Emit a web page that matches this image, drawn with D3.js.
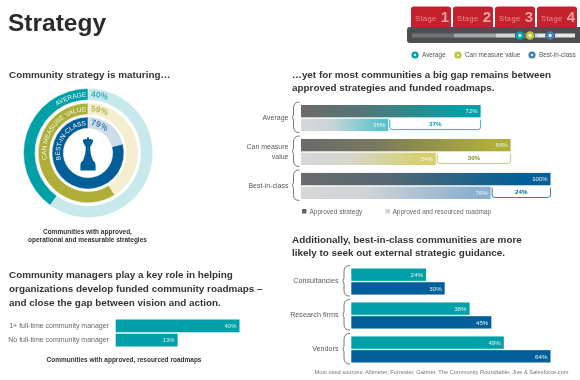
<!DOCTYPE html>
<html>
<head>
<meta charset="utf-8">
<script src="https://cdn.jsdelivr.net/npm/d3@7"></script>
<style>
  html, body { margin: 0; padding: 0; background: #fff; }
  svg { display: block; font-family: "Liberation Sans", Arial, sans-serif; filter: blur(0.4px); }
</style>
</head>
<body>
<div id="chart"></div>
<script>
// data
var maturitySegments = ["AVERAGE", "CAN MEASURE VALUE", "BEST-IN-CLASS"];
var maturityValues = [40, 59, 79];

var gapCategories = ["Average", "Can measure value", "Best-in-class"];
var gapSeries = ["Approved strategy", "Approved and resourced roadmap"];
var approvedValues = [72, 84, 100];
var roadmapValues = [35, 54, 76];
var gapValues = [37, 30, 24];

var guidanceCategories = ["Consultancies", "Research firms", "Vendors"];
var guidanceSeries = ["Average", "Best-in-class"];
var guidanceAverage = [24, 38, 49];
var guidanceBest = [30, 45, 64];

var managerCategories = ["1+ full-time community manager", "No full-time community manager"];
// the second bar is drawn longer than its printed 13% in the reference
var managerLengths = [40, 20];
var managerLabels = ["40%", "13%"];

var stageNames = [1, 2, 3, 4];
var legendNames = ["Average", "Can measure value", "Best-in-class"];
var stagePositions = [3.57, 3.81, 4.29];

var TEAL = "#00a0a8", OLIVE = "#aeae38", BLUE = "#005f99";
var ringColors = [TEAL, OLIVE, BLUE];
var ringLight = ["#c8e9eb", "#f2eecf", "#cedce9"];
var roadmapEnd = ["#5cc5ca", "#d6d06c", "#8db0ce"];
var INK = "#333333", LABEL = "#5a5a5a";

var svg = d3.select("#chart").append("svg")
  .attr("width", 580)
  .attr("height", 380);
var defs = svg.append("defs");

function heading(lines, x, y, lineHeight) {
  lines.forEach(function (t, i) {
    svg.append("text")
      .attr("x", x)
      .attr("y", y + i * lineHeight)
      .attr("font-size", 9.9)
      .attr("font-weight", "bold")
      .attr("fill", INK)
      .text(t);
  });
}

function note(t, x, y, size, anchor, color, bold) {
  return svg.append("text")
    .attr("x", x)
    .attr("y", y)
    .attr("font-size", size)
    .attr("text-anchor", anchor)
    .attr("fill", color)
    .attr("font-weight", bold ? "bold" : "normal")
    .text(t);
}

// bracket down the left of a group of bars
function bracket(x, y0, y1) {
  var w = 6, c = 3, mid = (y0 + y1) / 2;
  svg.append("path")
    .attr("d", "M" + (x + w) + "," + y0 + "Q" + x + "," + y0 + " " + x + "," + (y0 + c * 2) +
      "V" + (mid - c) + "L" + (x - 1) + "," + mid + "L" + x + "," + (mid + c) +
      "V" + (y1 - c * 2) + "Q" + x + "," + y1 + " " + (x + w) + "," + y1)
    .attr("fill", "none")
    .attr("stroke", "#555")
    .attr("stroke-width", 0.8);
}

// title
note("Strategy", 8, 31, 24.5, "start", "#2b2b2b", true);

// stage tracker, top right
var stageX = d3.scaleLinear().domain([1, 5]).range([412, 580]);
var stageTabs = svg.append("g");
stageNames.forEach(function (s) {
  var x0 = stageX(s) - 1, x1 = stageX(s + 1) - 3;
  stageTabs.append("path")
    .attr("d", "M" + x0 + ",28V9Q" + x0 + ",6.5 " + (x0 + 3) + ",6.5H" + (x1 - 3) + "Q" + x1 + ",6.5 " + x1 + ",9V28Z")
    .attr("fill", "#c4212f");
  stageTabs.append("text")
    .attr("x", x0 + 4)
    .attr("y", 20.5)
    .attr("font-size", 7.6)
    .attr("letter-spacing", 0.35)
    .attr("fill", "#e88e8e")
    .text("Stage");
  stageTabs.append("text")
    .attr("x", x1 - 2)
    .attr("y", 22)
    .attr("text-anchor", "end")
    .attr("font-size", 15)
    .attr("font-weight", "bold")
    .attr("fill", "#eda0a0")
    .text(s);
});
svg.append("rect")
  .attr("x", 407).attr("y", 27)
  .attr("width", 180).attr("height", 16)
  .attr("rx", 3)
  .attr("fill", "#4c4e50");
var trackColors = ["#707274", "#a3a5a7", "#d4d5d6", "#e6e6e6"];
stageNames.forEach(function (s, i) {
  svg.append("rect")
    .attr("x", stageX(s))
    .attr("y", 33.5)
    .attr("width", stageX(s + 1) - stageX(s) - (s == 4 ? 5 : 0))
    .attr("height", 4)
    .attr("fill", trackColors[i]);
});
var markerColors = ["#00a3ad", "#c3c236", "#3e7fb8"];
stagePositions.forEach(function (p, i) {
  svg.append("circle").attr("cx", stageX(p)).attr("cy", 35.5).attr("r", 5).attr("fill", "#4c4e50");
  svg.append("circle").attr("cx", stageX(p)).attr("cy", 35.5).attr("r", 3)
    .attr("fill", "#eef").attr("stroke", markerColors[i]).attr("stroke-width", 2.6);
});
var legendDotX = d3.scaleOrdinal().domain(legendNames).range([415, 458, 532]);
legendNames.forEach(function (n, i) {
  svg.append("circle").attr("cx", legendDotX(n)).attr("cy", 55).attr("r", 2.4)
    .attr("fill", "#dfeef0").attr("stroke", markerColors[i]).attr("stroke-width", 2.4);
  note(n, legendDotX(n) + 7, 57.3, 6.4, "start", "#555", false);
});

// rings
heading(["Community strategy is maturing…"], 9, 78, 13);

var ringRadii = [[53, 64.5], [38.5, 49.8], [24.7, 36]];
var ringAngle = d3.scaleLinear().domain([0, 100]).range([0, -2 * Math.PI]);
var rings = svg.append("g").attr("transform", "translate(88,153)");
var arc = d3.arc();

maturityValues.forEach(function (v, i) {
  var r = ringRadii[i];
  rings.append("path")
    .attr("d", arc({innerRadius: r[0], outerRadius: r[1], startAngle: 0, endAngle: 2 * Math.PI}))
    .attr("fill", ringLight[i]);
  rings.append("path")
    .attr("d", arc({innerRadius: r[0], outerRadius: r[1], startAngle: 0, endAngle: ringAngle(v)}))
    .attr("fill", ringColors[i])
    .attr("stroke", "#fff")
    .attr("stroke-width", 0.5);

  // circle that starts at the bottom, so its halfway point is 12 o'clock
  var baseR = (r[0] + r[1]) / 2 - 2.4;
  var circlePath = d3.path();
  circlePath.arc(0, 0, baseR, Math.PI / 2, Math.PI / 2 + 2 * Math.PI);
  defs.append("path").attr("id", "ring" + i).attr("d", circlePath.toString());

  rings.append("text")
    .attr("font-size", 6.5)
    .attr("fill", "#eef6ee")
    .attr("text-anchor", "end")
    .append("textPath")
    .attr("href", "#ring" + i)
    .attr("startOffset", (Math.PI * baseR - 2) + "")
    .text(maturitySegments[i]);
  rings.append("text")
    .attr("font-size", 8.4)
    .attr("font-weight", "bold")
    .attr("fill", ringColors[i] == BLUE ? "#3d7db0" : (ringColors[i] == OLIVE ? "#b5b54a" : "#35adb3"))
    .append("textPath")
    .attr("href", "#ring" + i)
    .attr("startOffset", (Math.PI * baseR + 2.5) + "")
    .text(v + "%");
});

// chess piece in the middle of the rings
rings.append("path")
  .attr("d", "M0,-16.5 L1,-15 L1,-14 C3.5,-14 5.2,-13.4 5.2,-12.6 L4,-8.6 L2.6,-8.6 L3.6,-7.2 L2.2,-6.4 C2.2,-1 3,3 5,7.5 C7,9 7.6,10.4 7.6,13 L7.6,17.5 L-7.6,17.5 L-7.6,13 C-7.6,10.4 -7,9 -5,7.5 C-3,3 -2.2,-1 -2.2,-6.4 L-3.6,-7.2 L-2.6,-8.6 L-4,-8.6 L-5.2,-12.6 C-5.2,-13.4 -3.5,-14 -1,-14 L-1,-15 Z")
  .attr("fill", BLUE);

note("Communities with approved,", 87.5, 233.5, 6.5, "middle", "#333", true);
note("operational and measurable strategies", 87.5, 241.8, 6.5, "middle", "#333", true);

// manager bars
heading([
  "Community managers play a key role in helping",
  "organizations develop funded community roadmaps –",
  "and close the gap between vision and action."
], 9, 278, 14);

var managerX = d3.scaleLinear().domain([0, 40]).range([115.7, 239.5]);
var managerY = d3.scaleBand().domain(managerCategories).range([319.5, 346.5]).paddingInner(0.1);
managerCategories.forEach(function (c, i) {
  svg.append("rect")
    .attr("x", managerX(0))
    .attr("y", managerY(c))
    .attr("width", managerX(managerLengths[i]) - managerX(0))
    .attr("height", managerY.bandwidth())
    .attr("fill", TEAL);
  note(c, 109, managerY(c) + managerY.bandwidth() / 2 + 2.3, 7, "end", "#666", false);
  note(managerLabels[i], managerX(managerLengths[i]) - 3, managerY(c) + managerY.bandwidth() / 2 + 2.2, 6, "end", "#d8f0f0", false);
});
note("Communities with approved, resourced roadmaps", 124, 361.5, 6.5, "middle", "#333", true);

// gap chart
heading([
  "…yet for most communities a big gap remains between",
  "approved strategies and funded roadmaps."
], 292, 77.5, 13);

var gapX = d3.scaleLinear().domain([0, 100]).range([301, 550.5]);
var gapY = d3.scaleBand().domain(gapCategories).range([102, 200.5]).paddingInner(0.1);
var gapRow = d3.scaleBand().domain(gapSeries).range([3, gapY.bandwidth() - 1.5]).paddingInner(0.1);

function gradient(id, from, mid, to) {
  var g = defs.append("linearGradient").attr("id", id);
  g.append("stop").attr("offset", "0%").attr("stop-color", from);
  g.append("stop").attr("offset", "35%").attr("stop-color", mid);
  g.append("stop").attr("offset", "90%").attr("stop-color", to);
}

gapCategories.forEach(function (c, i) {
  var y0 = gapY(c);
  gradient("appr" + i, "#6a6a6a", d3.interpolateRgb("#6a6a6a", ringColors[i])(0.2), ringColors[i]);
  gradient("road" + i, "#d6d7d8", d3.interpolateRgb("#d6d7d8", roadmapEnd[i])(0.1), roadmapEnd[i]);

  svg.append("rect")
    .attr("x", gapX(0)).attr("y", y0 + gapRow(gapSeries[0]))
    .attr("width", gapX(approvedValues[i]) - gapX(0))
    .attr("height", gapRow.bandwidth())
    .attr("fill", "url(#appr" + i + ")");
  svg.append("rect")
    .attr("x", gapX(0)).attr("y", y0 + gapRow(gapSeries[1]))
    .attr("width", gapX(roadmapValues[i]) - gapX(0))
    .attr("height", gapRow.bandwidth())
    .attr("fill", "url(#road" + i + ")");

  note(approvedValues[i] + "%", gapX(approvedValues[i]) - 3, y0 + gapRow(gapSeries[0]) + gapRow.bandwidth() / 2 + 2.2, 6, "end", "#e4f2f2", false);
  note(roadmapValues[i] + "%", gapX(roadmapValues[i]) - 3, y0 + gapRow(gapSeries[1]) + gapRow.bandwidth() / 2 + 2.2, 6, "end", "#f2f6f6", false);

  // rounded cup that spans the gap between the two bars
  var gx0 = gapX(roadmapValues[i]) + 1.5, gx1 = gapX(approvedValues[i]);
  var gyTop = y0 + gapRow(gapSeries[1]) + 1, gyBot = y0 + gapRow(gapSeries[1]) + gapRow.bandwidth() - 1.5;
  svg.append("path")
    .attr("d", "M" + gx0 + "," + gyTop + "V" + (gyBot - 2.5) + "Q" + gx0 + "," + gyBot + " " + (gx0 + 3) + "," + gyBot +
      "H" + (gx1 - 3) + "Q" + gx1 + "," + gyBot + " " + gx1 + "," + (gyBot - 2.5) + "V" + gyTop)
    .attr("fill", "none")
    .attr("stroke", ringColors[i] == OLIVE ? "#b9b850" : ringColors[i])
    .attr("stroke-width", 0.8);
  note(gapValues[i] + "%", (gx0 + gx1) / 2, gyTop + 6.4, 6.2, "middle", ringColors[i] == OLIVE ? "#8c8c20" : ringColors[i], true);

  bracket(293.5, y0, y0 + gapY.bandwidth());
});

note("Average", 288.5, gapY("Average") + gapY.bandwidth() / 2 + 2.5, 7, "end", LABEL, false);
note("Can measure", 288.5, gapY("Can measure value") + gapY.bandwidth() / 2 - 2, 7, "end", LABEL, false);
note("value", 288.5, gapY("Can measure value") + gapY.bandwidth() / 2 + 7.5, 7, "end", LABEL, false);
note("Best-in-class", 288.5, gapY("Best-in-class") + gapY.bandwidth() / 2 + 2.5, 7, "end", LABEL, false);

svg.append("rect").attr("x", 302).attr("y", 209).attr("width", 4.5).attr("height", 4.5).attr("fill", "#666");
note(gapSeries[0], 309.5, 213.5, 6.5, "start", "#666", false);
svg.append("rect").attr("x", 385.5).attr("y", 209).attr("width", 4.5).attr("height", 4.5).attr("fill", "#d4d4d4");
note(gapSeries[1], 392.5, 213.5, 6.5, "start", "#666", false);

// guidance chart
heading([
  "Additionally, best-in-class communities are more",
  "likely to seek out external strategic guidance."
], 292, 242.5, 13);

var guidanceX = d3.scaleLinear().domain([0, 64]).range([351.3, 550.5]);
var guidanceY = d3.scaleBand().domain(guidanceCategories).range([265.5, 364]).paddingInner(0.1);
var guidanceRow = d3.scaleBand().domain(guidanceSeries).range([3, guidanceY.bandwidth() - 1.5]).paddingInner(0.1);

guidanceCategories.forEach(function (c, i) {
  var y0 = guidanceY(c);
  [guidanceAverage[i], guidanceBest[i]].forEach(function (v, j) {
    var s = guidanceSeries[j];
    svg.append("rect")
      .attr("x", guidanceX(0)).attr("y", y0 + guidanceRow(s))
      .attr("width", guidanceX(v) - guidanceX(0))
      .attr("height", guidanceRow.bandwidth())
      .attr("fill", j == 0 ? TEAL : BLUE);
    note(v + "%", guidanceX(v) - 3, y0 + guidanceRow(s) + guidanceRow.bandwidth() / 2 + 2.2, 6.2, "end", "#e4f2f2", false);
  });
  bracket(344, y0, y0 + guidanceY.bandwidth());
  note(c, 338.5, y0 + guidanceY.bandwidth() / 2 + 2.6, 7.2, "end", LABEL, false);
});

note("Most used sources: Altimeter, Forrester, Gartner, The Community Roundtable, Jive & Salesforce.com", 314.5, 373.5, 5.7, "start", "#777", false);
</script>
</body>
</html>
